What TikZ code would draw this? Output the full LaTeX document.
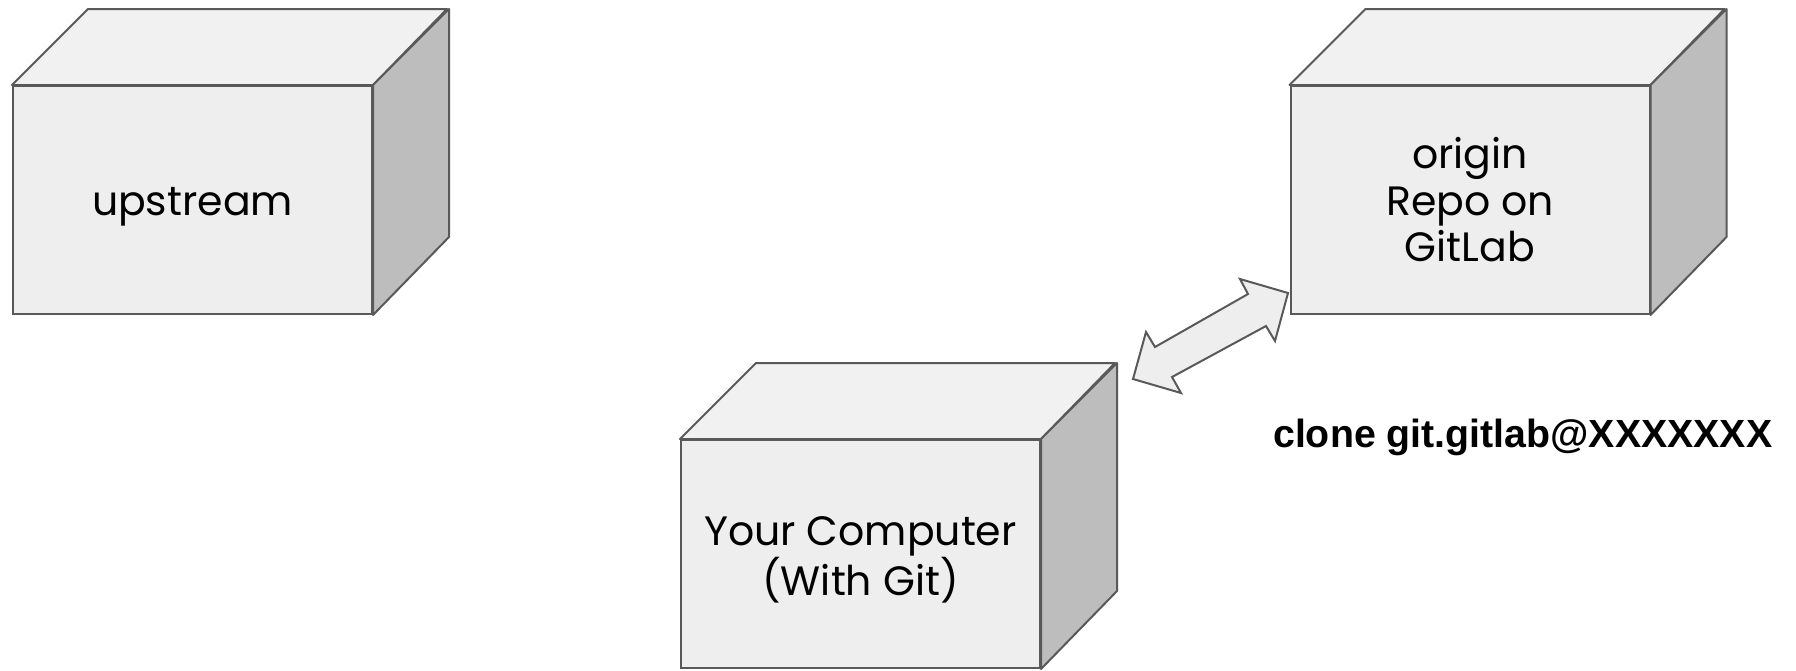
\documentclass[tikz,border=0pt]{standalone}
\usepackage{fontspec}
\setmainfont{Poppins}
\newfontfamily\clonefont{Liberation Sans}
\definecolor{edgec}{HTML}{595959}
\definecolor{frontc}{HTML}{EEEEEE}
\definecolor{topc}{HTML}{F1F1F1}
\definecolor{sidec}{HTML}{BDBDBD}
\tikzset{
  face/.style={draw=edgec, line width=2pt, fill=frontc, minimum width=359pt,
    minimum height=228pt, inner sep=0pt},
  facetext/.style={align=center, inner sep=0pt, font=\fontsize{41}{46.5}\selectfont},
  topface/.style={draw=edgec, line width=2pt, fill=topc, line join=round},
  sideface/.style={draw=edgec, line width=2pt, fill=sidec, line join=round},
  blockarrow/.style={draw=edgec, line width=2pt, fill=frontc, line join=miter},
}
\newcommand\cubeparts[1]{%
  \draw[topface] (#1.north west) -- ++(76,-76) -- ++(359,0) -- (#1.north east) -- cycle;
  \draw[sideface] (#1.north east) -- ++(76,-76) -- ++(0,228) -- (#1.south east) -- cycle;
}
\begin{document}
\begin{tikzpicture}[x=1pt,y=-1pt]
\useasboundingbox (0,0) rectangle (1796,670);
\node[face] (up) at (192.5,200) {};
\node[facetext, yshift=-7pt] (upt) at (up.center) {upstream};
\cubeparts{up}
\node[face] (origin) at (1470,200) {};
\node[facetext] (origint) at (origin.center) {origin\\Repo on\\GitLab};
\cubeparts{origin}
\node[face] (comp) at (860.5,554) {};
\node[facetext, yshift=-6pt] (compt) at (comp.center) {Your Computer\\(With Git)};
\cubeparts{comp}
\draw[blockarrow] (1288,293) -- (1275,341) -- (1266,326) -- (1172,377) -- (1181,393)
  -- (1133,379) -- (1146,332) -- (1155,347) -- (1248,294) -- (1240,279) -- cycle;
\node[font=\clonefont\bfseries\fontsize{39.3}{44}\selectfont, anchor=base west, inner sep=0pt]
  (clone) at (1273,447) {clone git.gitlab@XXXXXXX};
\end{tikzpicture}
\end{document}
